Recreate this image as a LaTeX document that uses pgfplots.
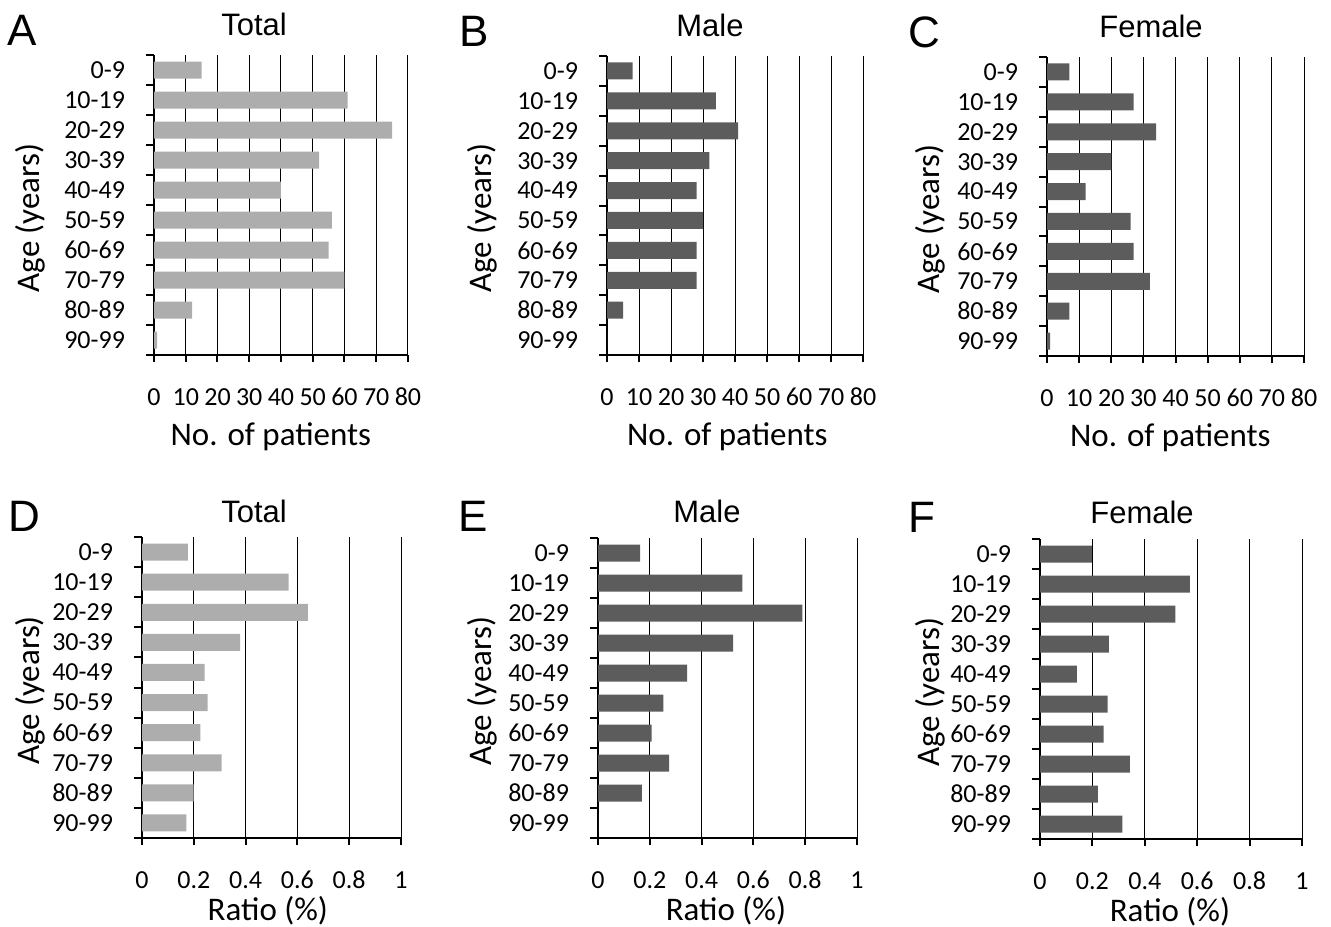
\documentclass[border=0pt]{standalone}
\usepackage{fontspec}
\setmainfont{Carlito}
\newfontfamily\arialf{Liberation Sans}
\usepackage{pgfplots}
\pgfplotsset{compat=1.18}
\definecolor{lightbar}{HTML}{ADADAD}
\definecolor{darkbar}{HTML}{5C5C5C}
\pgfplotsset{
  panel/.style={
    scale only axis,
    anchor=south west,
    xbar,
    bar width=8.5bp,
    ymin=0.5, ymax=10.5,
    ytick={1,...,10},
    yticklabels={90-99,80-89,70-79,60-69,50-59,40-49,30-39,20-29,10-19,0-9},
    minor ytick={0.5,1.5,...,10.5},
    major y tick style={draw=none},
    tick align=outside,
    major tick length=3.5bp,
    minor tick length=4bp,
    axis x line*=bottom, axis y line*=left,
    axis line style={line width=1.3bp,-},
    xmajorgrids=true, ymajorgrids=false,
    grid style={black, line width=0.5bp},
    tick style={black, line width=1bp},
    /pgf/number format/assume math mode=true,
    tick label style={font=\fontsize{13bp}{15bp}\selectfont},
    yticklabel style={xshift=-7.5bp},
    xticklabel style={anchor=base, yshift=-21.5bp},
    label style={font=\fontsize{16.5bp}{18bp}\selectfont},
    ylabel={Age (years)},
  },
  count/.style={xmin=0, xmax=80, xtick={0,10,...,80}, xlabel={No. of patients}},
  ratio/.style={xmin=0, xmax=1, xtick={0,0.2,...,1}, xticklabels={0,0.2,0.4,0.6,0.8,1}, xlabel={Ratio (\%)}},
}
\begin{document}
\begin{tikzpicture}
\path[use as bounding box] (0,0) rectangle (665.5bp,-463.5bp);
% ---------- A ----------
\begin{axis}[panel, count, at={(77bp,-177.5bp)}, width=127bp, height=150bp,
  ylabel style={at={(axis description cs:-0.488,0.457)}, anchor=center},
  xlabel style={at={(axis description cs:0.46,0)}, anchor=center, yshift=-41bp}]
\addplot[fill=lightbar, draw=none] coordinates {
(15,10) (61,9) (75,8) (52,7) (40,6) (56,5) (55,4) (60,3) (12,2) (1,1)};
\end{axis}
% ---------- B ----------
\begin{axis}[panel, count, at={(303.5bp,-177.5bp)}, width=128bp, height=149.5bp,
  ylabel style={at={(axis description cs:-0.488,0.457)}, anchor=center},
  xlabel style={at={(axis description cs:0.47,0)}, anchor=center, yshift=-41bp}]
\addplot[fill=darkbar, draw=none] coordinates {
(8,10) (34,9) (41,8) (32,7) (28,6) (30,5) (28,4) (28,3) (5,2) (0,1)};
\end{axis}
% ---------- C ----------
\begin{axis}[panel, count, at={(523.5bp,-178bp)}, width=128.5bp, height=149.5bp,
  ylabel style={at={(axis description cs:-0.455,0.457)}, anchor=center},
  xlabel style={at={(axis description cs:0.48,0)}, anchor=center, yshift=-41bp}]
\addplot[fill=darkbar, draw=none] coordinates {
(7,10) (27,9) (34,8) (20,7) (12,6) (26,5) (27,4) (32,3) (7,2) (1,1)};
\end{axis}
% ---------- D ----------
\begin{axis}[panel, ratio, at={(71bp,-419bp)}, width=129.5bp, height=150.5bp,
  ylabel style={at={(axis description cs:-0.432,0.49)}, anchor=center},
  xlabel style={at={(axis description cs:0.486,0)}, anchor=center, yshift=-36.5bp}]
\addplot[fill=lightbar, draw=none] coordinates {
(0.177,10) (0.566,9) (0.640,8) (0.379,7) (0.242,6) (0.253,5) (0.225,4) (0.307,3) (0.199,2) (0.171,1)};
\end{axis}
% ---------- E ----------
\begin{axis}[panel, ratio, at={(299bp,-419bp)}, width=129.5bp, height=150bp,
  ylabel style={at={(axis description cs:-0.448,0.49)}, anchor=center},
  xlabel style={at={(axis description cs:0.494,0)}, anchor=center, yshift=-36.5bp}]
\addplot[fill=darkbar, draw=none] coordinates {
(0.163,10) (0.557,9) (0.789,8) (0.522,7) (0.344,6) (0.252,5) (0.207,4) (0.275,3) (0.169,2) (0,1)};
\end{axis}
% ---------- F ----------
\begin{axis}[panel, ratio, at={(520bp,-419.5bp)}, width=131bp, height=150bp,
  ylabel style={at={(axis description cs:-0.42,0.49)}, anchor=center},
  xlabel style={at={(axis description cs:0.496,0)}, anchor=center, yshift=-36.5bp}]
\addplot[fill=darkbar, draw=none] coordinates {
(0.198,10) (0.572,9) (0.517,8) (0.263,7) (0.141,6) (0.258,5) (0.243,4) (0.343,3) (0.221,2) (0.314,1)};
\end{axis}
% ---------- titles and panel letters ----------
\begin{scope}[every node/.style={font=\arialf\fontsize{15.5bp}{17bp}\selectfont, anchor=base}]
\node at (127bp,-17.5bp) {Total};
\node at (355bp,-18bp) {Male};
\node at (575.5bp,-18.5bp) {Female};
\node at (127bp,-261bp) {Total};
\node at (353.5bp,-261bp) {Male};
\node at (571bp,-261.5bp) {Female};
\end{scope}
\begin{scope}[every node/.style={font=\arialf\fontsize{22bp}{24bp}\selectfont, anchor=center, inner sep=0pt}]
\node at (11bp,-15bp) {A};
\node at (237bp,-15.5bp) {B};
\node at (462bp,-16bp) {C};
\node at (12bp,-258bp) {D};
\node at (236.5bp,-258bp) {E};
\node at (461bp,-258.5bp) {F};
\end{scope}
\end{tikzpicture}
\end{document}
